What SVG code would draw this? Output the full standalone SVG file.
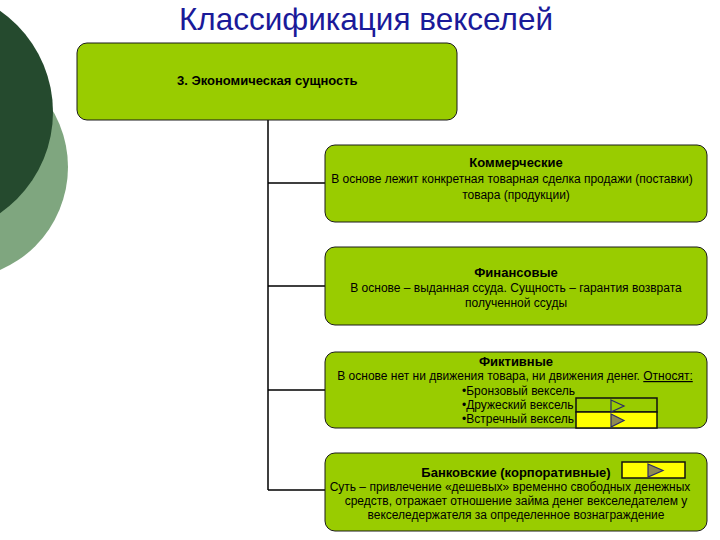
<svg xmlns="http://www.w3.org/2000/svg" width="720" height="540" viewBox="0 0 720 540">
<style>
.box{fill:#99cc00;stroke:#1a1a1a;stroke-width:1}
.t{font-family:"Liberation Sans",Arial,sans-serif;font-size:12px;fill:#000}
.b{font-weight:bold;font-size:13px}
.c{text-anchor:middle}
.ln{stroke:#000;stroke-width:1.5;fill:none}
.tri{stroke:#2a2a6a;stroke-width:1.2}
</style>
<rect width="720" height="540" fill="#fff"/>
<g id="decor">
<circle cx="-44" cy="167" r="112" fill="#7fa67f"/>
<circle cx="-70" cy="112" r="123" fill="#254a2e"/>
</g>
<text x="366" y="30" font-family="'Liberation Sans',Arial,sans-serif" font-size="31.5" fill="#1a1a99" text-anchor="middle">Классификация векселей</text>
<g id="connectors">
<path class="ln" d="M268 120V490M268 183H325M268 286H325M268 390H325M268 490H325"/>
</g>
<g id="root">
<rect class="box" x="77" y="43" width="380" height="77" rx="10"/>
<text class="t b" x="177" y="85">3. Экономическая сущность</text>
</g>
<g id="commercial">
<rect class="box" x="325" y="145" width="382" height="77" rx="10"/>
<text class="t b c" x="516" y="167">Коммерческие</text>
<text class="t c" x="512" y="183">В основе лежит конкретная товарная сделка продажи (поставки)</text>
<text class="t c" x="516" y="199">товара (продукции)</text>
</g>
<g id="financial">
<rect class="box" x="325" y="247" width="382" height="78" rx="10"/>
<text class="t b c" x="516" y="277">Финансовые</text>
<text class="t c" x="516" y="292">В основе – выданная ссуда. Сущность – гарантия возврата</text>
<text class="t c" x="516" y="307">полученной ссуды</text>
</g>
<g id="fictive">
<rect class="box" x="325" y="352" width="382" height="76" rx="10"/>
<text class="t b c" x="516" y="366">Фиктивные</text>
<text class="t c" x="515" y="380">В основе нет ни движения товара, ни движения денег. <tspan text-decoration="underline">Относят:</tspan></text>
<text class="t" x="462" y="395">•Бронзовый вексель</text>
<text class="t" x="462" y="409">•Дружеский вексель</text>
<text class="t" x="462" y="423">•Встречный вексель</text>
<rect x="576" y="398" width="81" height="14" fill="#99cc00" stroke="#111" stroke-width="1.5"/>
<rect x="576" y="412" width="81" height="16" fill="#ffff00" stroke="#111" stroke-width="1.5"/>
<path class="tri" d="M611 400L624 406L611 412Z" fill="#99cc00"/>
<path class="tri" d="M611 414L624 420.5L611 427Z" fill="#8f8a55"/>
</g>
<g id="bank">
<rect class="box" x="325" y="453" width="382" height="78" rx="10"/>
<text class="t b c" x="516" y="477">Банковские (корпоративные)</text>
<rect x="622" y="462" width="63" height="16" fill="#ffff00" stroke="#111" stroke-width="1.5"/>
<path class="tri" d="M648 464L663 470.5L648 477Z" fill="#8f8a55"/>
<text class="t c" x="510" y="491">Суть – привлечение «дешевых» временно свободных денежных</text>
<text class="t c" x="516" y="505">средств, отражает отношение займа денег  векселедателем у</text>
<text class="t c" x="516" y="519">векселедержателя за определенное вознаграждение</text>
</g>
</svg>
